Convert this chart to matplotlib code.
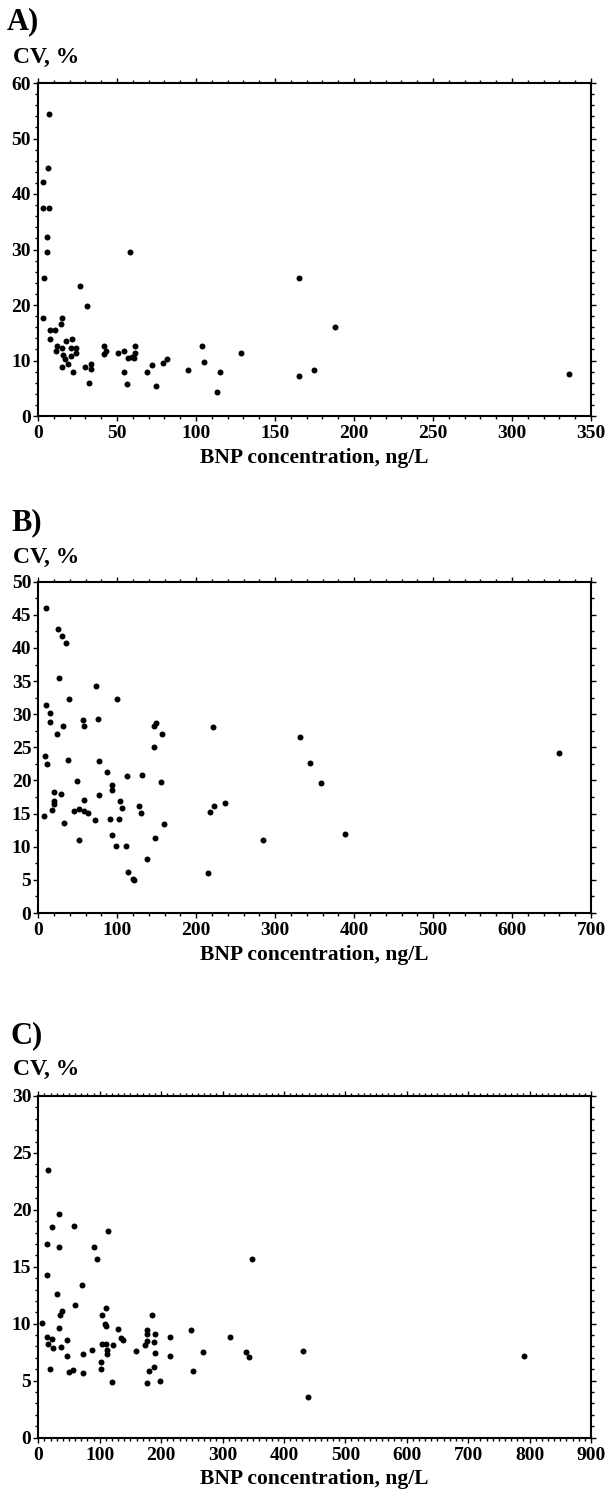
import matplotlib
matplotlib.use("Agg")
import matplotlib.pyplot as plt
from matplotlib.ticker import MultipleLocator

# ---------------- data ----------------
a_bnp = [7.0, 6.1, 3.0, 3.0, 7.2, 5.5, 5.5, 3.8, 3.4, 7.6,
         10.8, 7.6, 15.2, 14.3, 11.8, 11.4, 15.0, 17.7, 16.0, 15.2,
         17.3, 19.2, 20.9, 21.5, 20.7, 21.9, 24.1, 24.1, 26.8, 30.8,
         30.0, 32.3, 33.8, 33.8, 42.0, 41.8, 43.0, 50.4, 54.6, 54.6,
         56.1, 57.2, 58.4, 59.3, 61.4, 61.4, 61.0, 69.0, 72.4, 74.5,
         78.9, 81.4, 95.1, 103.6, 105.3, 113.1, 115.2, 128.5, 165.5, 165.5,
         174.5, 187.8, 336.3]
a_cv = [54.5, 44.7, 42.2, 37.5, 37.5, 32.2, 29.5, 24.9, 17.7, 15.5,
        15.5, 13.8, 17.7, 16.6, 12.6, 11.7, 12.3, 13.6, 11.0, 8.9,
        10.2, 9.3, 12.3, 13.9, 10.9, 8.0, 12.2, 11.4, 23.4, 19.8,
        8.9, 6.0, 9.3, 8.4, 12.7, 11.1, 11.7, 11.4, 11.7, 8.0,
        5.8, 10.5, 29.5, 10.7, 12.7, 11.3, 10.5, 8.0, 9.2, 5.4,
        9.5, 10.2, 8.3, 12.7, 9.8, 4.3, 8.0, 11.3, 24.8, 7.2,
        8.3, 16.1, 7.6]

b_bnp = [9.8, 25.1, 29.8, 34.5, 26.8, 39.1, 9.8, 14.9, 14.9, 23.4,
         31.1, 56.6, 58.3, 73.2, 75.3, 99.1, 146.8, 149.4, 156.6, 221.3,
         331.0, 344.1, 358.0, 388.4, 659.8,
         8.5, 10.6, 6.8, 20.3, 28.4, 20.3, 20.3, 17.8, 33.1, 37.3,
         49.6, 44.9, 52.1, 58.1, 58.1, 63.1, 52.1, 71.6, 76.3, 77.5,
         86.9, 92.8, 92.8, 91.1, 92.8, 98.7, 101.7, 103.4, 106.4, 112.3,
         110.6, 113.6, 119.9, 121.6, 131.8, 127.5, 130.5, 137.7, 146.6, 148.3,
         155.9, 158.9, 214.4, 217.8, 222.5, 236.0, 284.3]
b_cv = [46.1, 42.9, 41.8, 40.75, 35.45, 32.25, 31.4, 30.15, 28.9, 27.0,
        28.2, 29.1, 28.2, 34.2, 29.25, 32.25, 28.2, 28.75, 26.95, 28.0,
        26.6, 22.7, 19.65, 11.85, 24.1,
        23.75, 22.5, 14.7, 18.25, 17.95, 16.85, 16.5, 15.6, 13.65, 23.1,
        19.85, 15.45, 15.65, 17.0, 15.35, 15.1, 11.0, 14.0, 22.9, 17.75,
        21.25, 19.35, 18.5, 14.2, 11.7, 10.1, 14.2, 16.85, 15.8, 20.75,
        10.1, 6.25, 5.2, 5.0, 20.9, 16.15, 15.1, 8.2, 25.0, 11.35,
        19.7, 13.5, 6.05, 15.25, 16.15, 16.65, 11.0]

c_bnp = [16.3, 33.7, 21.7, 58.6, 113.5, 13.6, 33.7, 91.2,
         96.1, 348.5, 14.7, 71.7, 29.9, 60.3, 109.7, 39.1, 35.3, 104.2,
         184.6, 6.0, 108.0, 109.7, 33.1, 130.3, 177.0, 249.2, 177.0, 190.0,
         14.7, 21.7, 47.2, 134.0, 138.4, 215.0, 312.2, 16.3, 24.4, 36.9,
         104.2, 109.7, 122.1, 188.4, 177.0, 174.3, 111.3, 86.9, 159.1, 268.7,
         338.2, 343.1, 46.7, 73.3, 111.3, 190.6, 215.0, 102.1, 18.5, 50.5,
         56.5, 72.7, 102.1, 179.7, 187.8, 251.4, 119.4, 176.4, 198.2,
         430.5, 439.2, 790.9]
c_cv = [23.5, 19.6, 18.5, 18.6, 18.1, 17.0, 16.7, 16.7,
        15.7, 15.7, 14.3, 13.4, 12.6, 11.65, 11.35, 11.1, 10.75, 10.8,
        10.8, 10.1, 10.0, 9.8, 9.65, 9.55, 9.45, 9.45, 9.1, 9.1,
        8.85, 8.65, 8.55, 8.7, 8.55, 8.85, 8.85, 8.25, 7.9, 7.95,
        8.25, 8.25, 8.1, 8.4, 8.45, 8.1, 7.7, 7.7, 7.6, 7.5,
        7.5, 7.1, 7.2, 7.3, 7.3, 7.4, 7.2, 6.6, 6.0, 5.75,
        5.95, 5.65, 6.0, 5.85, 6.15, 5.85, 4.9, 4.75, 4.95,
        7.6, 3.6, 7.2]

panel_labels = ["A)", "B)", "C)"]
y_label = "CV, %"
x_label = "BNP concentration, ng/L"

# ---------------- figure ----------------
W, H = 608, 1493
DPI = 100
plt.rcParams['font.family'] = ['Liberation Serif', 'DejaVu Serif']
plt.rcParams['font.weight'] = 'bold'
fig = plt.figure(figsize=(W / DPI, H / DPI), dpi=DPI)

def px_axes(left, right, top, bottom):
    return fig.add_axes([left / W, 1 - bottom / H, (right - left) / W, (bottom - top) / H])

panels = [
    dict(box=(38, 591, 83, 416), x=a_bnp, y=a_cv, xlim=350, ylim=60,
         xmaj=50, xmin=10, ymaj=10, ymin=2, lab=panel_labels[0], labx=7, laby=22, cvy=57),
    dict(box=(38.3, 591, 581.7, 913), x=b_bnp, y=b_cv, xlim=700, ylim=50,
         xmaj=100, xmin=20, ymaj=5, ymin=2.5, lab=panel_labels[1], labx=11, laby=523, cvy=557),
    dict(box=(38.3, 591, 1096, 1437.5), x=c_bnp, y=c_cv, xlim=900, ylim=30,
         xmaj=100, xmin=10, ymaj=5, ymin=1, lab=panel_labels[2], labx=10, laby=1036, cvy=1069),
]

axes = []
for p in panels:
    l, r, t, b = p['box']
    ax = px_axes(l, r, t, b)
    axes.append(ax)
    ax.plot(p['x'], p['y'], 'o', color='black', markersize=4.3, markeredgewidth=0, clip_on=False)
    ax.set_xlim(0, p['xlim'])
    ax.set_ylim(0, p['ylim'])
    ax.xaxis.set_major_locator(MultipleLocator(p['xmaj']))
    ax.xaxis.set_minor_locator(MultipleLocator(p['xmin']))
    ax.yaxis.set_major_locator(MultipleLocator(p['ymaj']))
    ax.yaxis.set_minor_locator(MultipleLocator(p['ymin']))
    for s in ax.spines.values():
        s.set_linewidth(1.5)
    ax.tick_params(which='both', direction='out', top=True, right=True,
                   width=1.0, labelsize=14)
    ax.tick_params(which='major', length=3.5)
    ax.tick_params(which='minor', length=2.0)
    ax.tick_params(axis='x', which='major', pad=3)
    ax.tick_params(axis='y', which='major', pad=1.5)
    ax.set_xlabel(x_label, fontsize=15.5, fontweight='bold', labelpad=4)
    fig.text(p['labx'] / W, 1 - p['laby'] / H, p['lab'], fontsize=22,
             fontweight='bold', ha='left', va='center')
    fig.text(13 / W, 1 - p['cvy'] / H, y_label, fontsize=17,
             fontweight='bold', ha='left', va='center')

fig.canvas.draw()
for ax in axes:
    for lbl in ax.get_xticklabels() + ax.get_yticklabels():
        lbl.set_fontweight('bold')

fig.savefig("out.png", dpi=DPI)
